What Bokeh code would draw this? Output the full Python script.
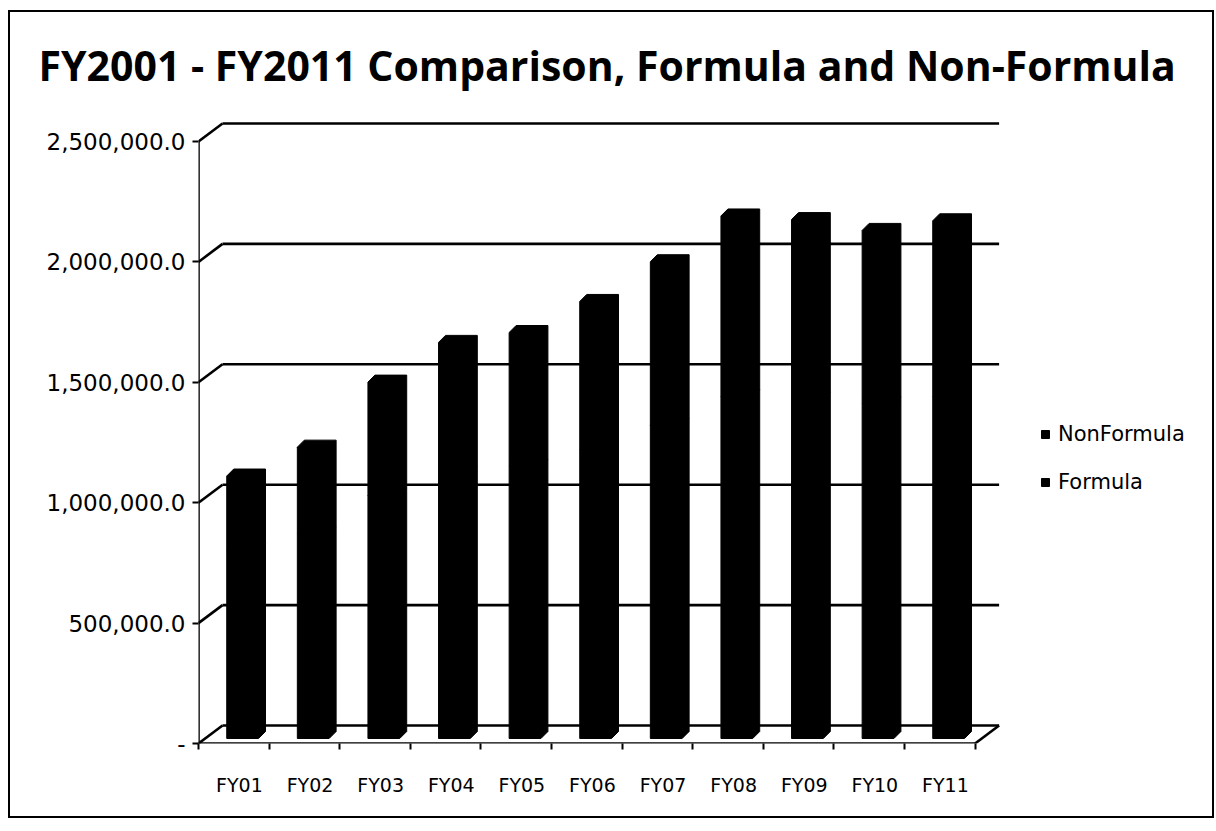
import numpy as np
from bokeh.plotting import figure
from bokeh.models import (ColumnDataSource, Range1d, FixedTicker, NumeralTickFormatter,
                          Legend, LegendItem)
from bokeh.embed import file_html
from bokeh.resources import INLINE

# ---------------- data ----------------
categories = ["FY01", "FY02", "FY03", "FY04", "FY05", "FY06", "FY07", "FY08", "FY09", "FY10", "FY11"]
formula = [780000, 850000, 1010000, 1100000, 1130000, 1200000, 1300000, 1420000, 1410000, 1390000, 1420000]
nonformula = [310000, 360000, 470000, 545000, 556000, 615000, 680000, 750000, 745000, 720000, 730000]
y_ticks = [0, 500000, 1000000, 1500000, 2000000, 2500000]
title_text = "FY2001 - FY2011 Comparison,  Formula and Non-Formula"

# ---------------- geometry (styles) ----------------
PX_X = 70.6            # pixels per category
PX_Y = 240.8 / 1e6     # pixels per unit value
FRAME_W, FRAME_H = 1012, 633
n = len(categories)
DX = 24 / PX_X         # depth offset of back wall (x, category units)
DY = 18 / PX_Y         # depth offset of back wall (y, value units)
BAR_OFF, BAR_W = 0.40, 0.45
BX, BY = 7 / PX_X, 7 / PX_Y
BASE = 5 / PX_Y
LABEL_SHIFT = 0.08

p = figure(frame_width=FRAME_W, frame_height=FRAME_H, output_backend="svg", toolbar_location=None,
           x_range=Range1d(0, FRAME_W / PX_X), y_range=Range1d(0, FRAME_H / PX_Y),
           min_border_left=188, min_border_right=2, min_border_top=98, min_border_bottom=73)
p.styles = {"border": "2px solid black", "margin-left": "8px", "margin-top": "10px"}
p.background_fill_color = "white"
p.border_fill_color = "white"
p.outline_line_color = None
p.xgrid.visible = False
p.ygrid.visible = False

p.title.text = title_text
p.title.text_font = "Open Sans"
p.title.text_font_style = "bold"
p.title.text_font_size = "41px"
p.title.text_color = "black"
p.title.align = "left"
p.title.offset = -160
p.title.standoff = 36

LW = 2.6
# back wall gridlines and side connectors
grid = ColumnDataSource(dict(
    x0=[DX] * len(y_ticks), x1=[n + DX] * len(y_ticks),
    y=[t + DY for t in y_ticks]))
p.segment(x0="x0", y0="y", x1="x1", y1="y", source=grid, line_color="black", line_width=LW)
conn = ColumnDataSource(dict(x0=[0] * len(y_ticks), y0=y_ticks,
                             x1=[DX] * len(y_ticks), y1=[t + DY for t in y_ticks]))
p.segment(x0="x0", y0="y0", x1="x1", y1="y1", source=conn, line_color="black", line_width=LW)
# floor front edge, right floor edge, front value axis
edges = ColumnDataSource(dict(x0=[0, n, 0], y0=[0, 0, 0], x1=[n, n + DX, 0], y1=[0, DY, y_ticks[-1]]))
p.segment(x0="x0", y0="y0", x1="x1", y1="y1", source=edges, line_color="black", line_width=LW)


def prism(b, t, i):
    x0 = i + BAR_OFF
    x1 = x0 + BAR_W
    xs = [x0, x0, x0 + BX, x1 + BX, x1 + BX, x1]
    ys = [BASE + b, BASE + t, BASE + t + BY, BASE + t + BY, BASE + b + BY, BASE + b]
    return xs, ys


f_xs, f_ys, n_xs, n_ys = [], [], [], []
for i, (f, nf) in enumerate(zip(formula, nonformula)):
    xs, ys = prism(0, f, i)
    f_xs.append(xs); f_ys.append(ys)
    xs, ys = prism(f, f + nf, i)
    n_xs.append(xs); n_ys.append(ys)

r_form = p.patches(f_xs, f_ys, fill_color="black", line_color="black", line_width=1)
r_non = p.patches(n_xs, n_ys, fill_color="black", line_color="black", line_width=1)

# axes
ya = p.yaxis[0]
ya.ticker = FixedTicker(ticks=y_ticks)
ya.formatter = NumeralTickFormatter(format="0,0.0")
ya.major_label_overrides = {0: "-"}
ya.axis_line_color = None
ya.major_tick_out = 6
ya.major_tick_in = 0
ya.major_tick_line_width = 2
ya.minor_tick_line_color = None
ya.major_label_text_font = "DejaVu Sans"
ya.major_label_text_font_size = "23px"
ya.major_label_text_color = "black"
ya.major_label_standoff = 7

xa = p.xaxis[0]
xa.ticker = FixedTicker(ticks=[i + 0.5 + LABEL_SHIFT for i in range(n)], minor_ticks=list(range(n + 1)))
xa.major_label_overrides = {i + 0.5 + LABEL_SHIFT: c for i, c in enumerate(categories)}
xa.axis_line_color = None
xa.major_tick_line_color = None
xa.major_tick_out = 0
xa.major_tick_in = 0
xa.minor_tick_out = 6
xa.minor_tick_in = 0
xa.minor_tick_line_width = 2
xa.minor_tick_line_color = "black"
xa.major_label_text_font = "DejaVu Sans"
xa.major_label_text_font_size = "19px"
xa.major_label_text_color = "black"
xa.major_label_standoff = 24

legend = Legend(items=[LegendItem(label="NonFormula", renderers=[r_non]),
                       LegendItem(label="Formula", renderers=[r_form])],
                location=(842, 249), padding=0, margin=0, spacing=24,
                glyph_width=10, glyph_height=10, label_standoff=8,
                label_text_font="DejaVu Sans", label_text_font_size="21px",
                label_text_color="black",
                border_line_color=None, background_fill_alpha=0)
p.add_layout(legend)

open("out.html", "w").write(file_html(p, INLINE))
